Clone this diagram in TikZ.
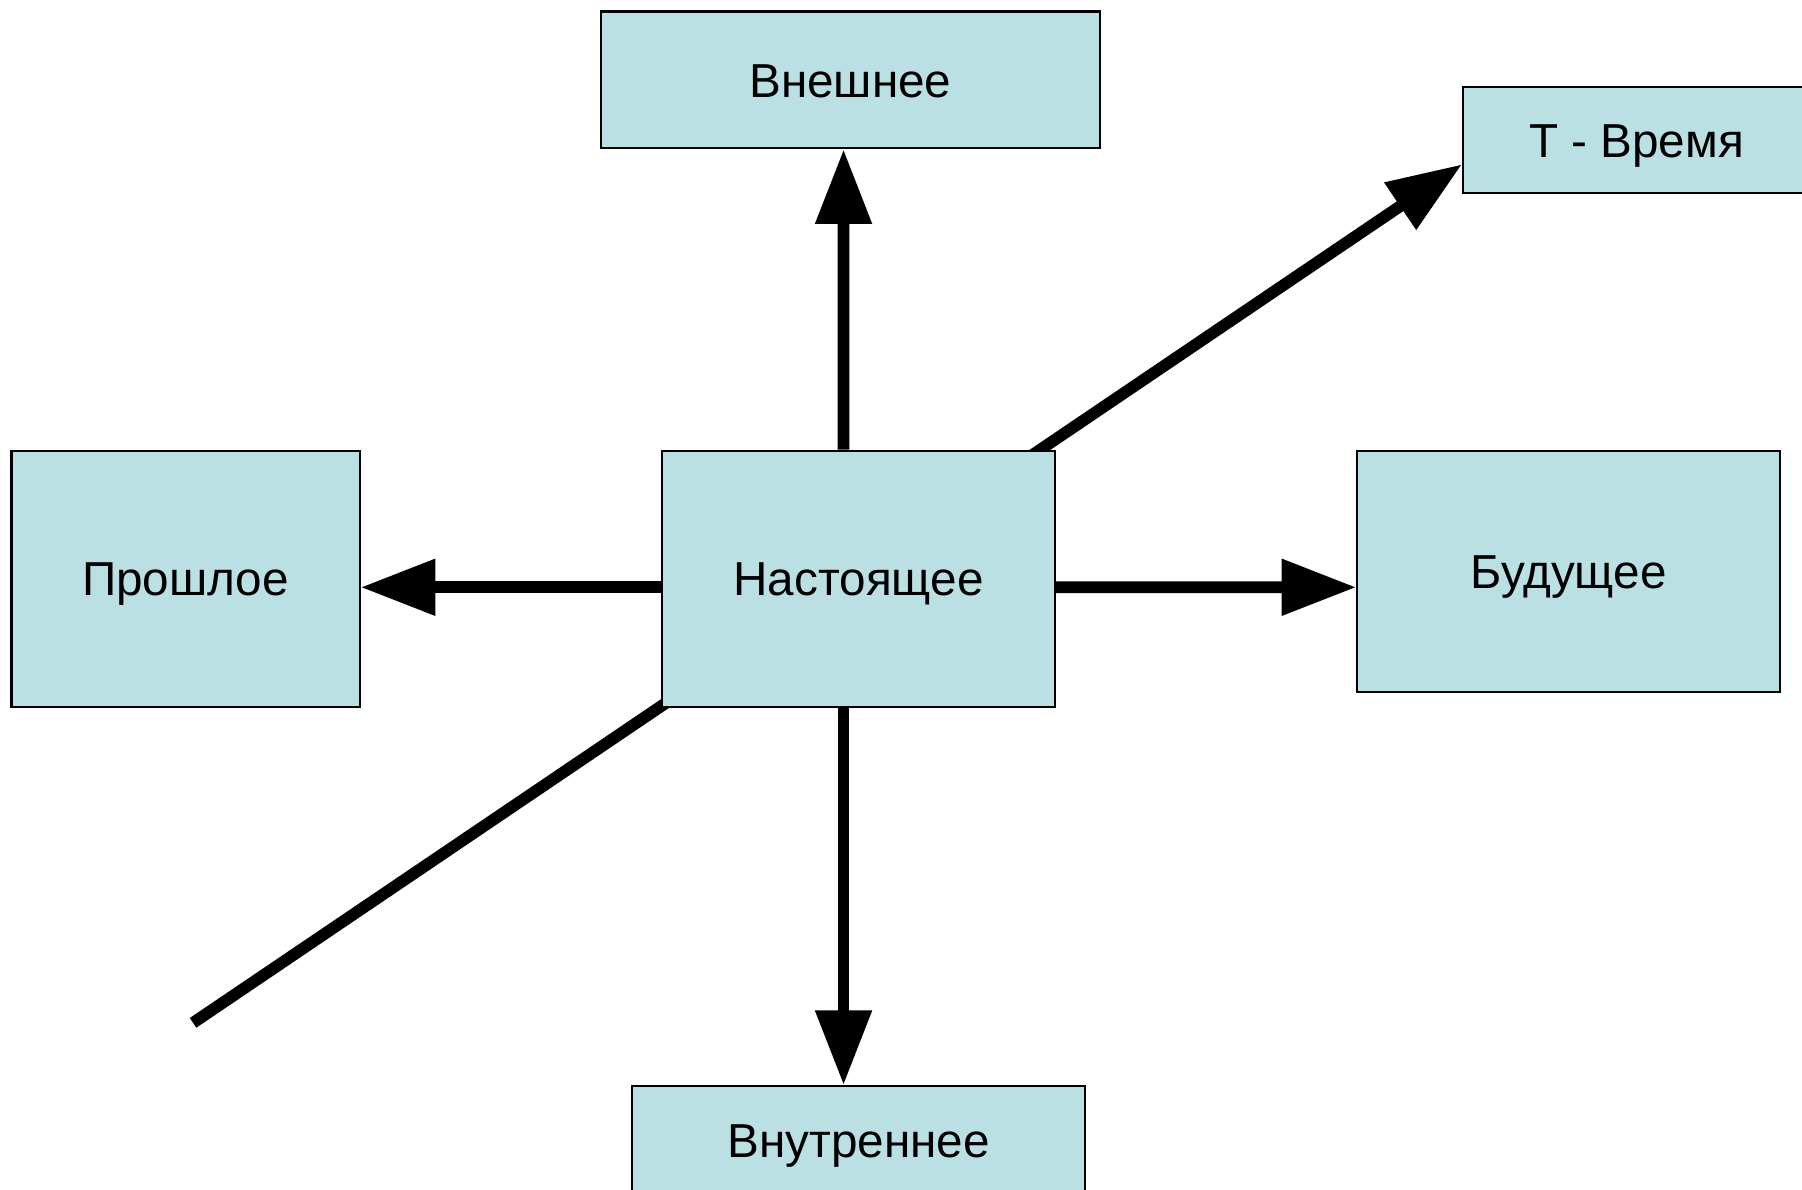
\documentclass[tikz,border=0pt]{standalone}
\usepackage{fontspec}
\setmainfont{Liberation Sans}
\usetikzlibrary{positioning,arrows.meta,calc}
\definecolor{boxblue}{HTML}{BBE0E3}
\tikzset{>={Triangle[length=6.5mm,width=4.7mm]}}
\tikzset{cell/.style={draw=black, line width=0.5pt, fill=boxblue, inner sep=0pt,
  text height=8.5pt, text depth=0pt, font=\fontsize{11.8}{14}\selectfont}}

\begin{document}
\begin{tikzpicture}[line width=2.9pt]
        \useasboundingbox (0,0) rectangle (15.68,-10.35);
        \node[cell, minimum width=3.02cm, minimum height=0.92cm] (tb) at (14.24,-1.22) {T - Время};
        \coordinate (tail) at (1.68,-8.90); %end of time axis
        \draw[->] (tail) -- ([yshift=-2.1mm]tb.west);

        \node[cell, minimum width=3.42cm, minimum height=2.23cm] (now) at (7.47,-5.035) {Настоящее};
        \node[cell, minimum width=4.34cm, minimum height=1.19cm] (ext) at (7.40,-0.695) {Внешнее};
        \node[cell, minimum width=3.03cm, minimum height=2.23cm] (past) at (1.615,-5.035) {Прошлое};
        \node[cell, minimum width=3.68cm, minimum height=2.10cm] (fut) at (13.65,-4.97) {Будущее};
        \node[cell, minimum width=3.94cm, minimum height=0.95cm] (int) at (7.47,-9.925) {Внутреннее};

        \path[->]
        ([xshift=-1.3mm]now.north) edge ([xshift=-0.6mm]ext.south)
        ([xshift=-1.3mm]now.south) edge ([xshift=-1.3mm]int.north)
        ([yshift=-0.75mm]now.west) edge ([yshift=-0.75mm]past.east)
        ([yshift=-0.75mm]now.east) edge ([yshift=-1.4mm]fut.west);
      \end{tikzpicture}
\end{document}
